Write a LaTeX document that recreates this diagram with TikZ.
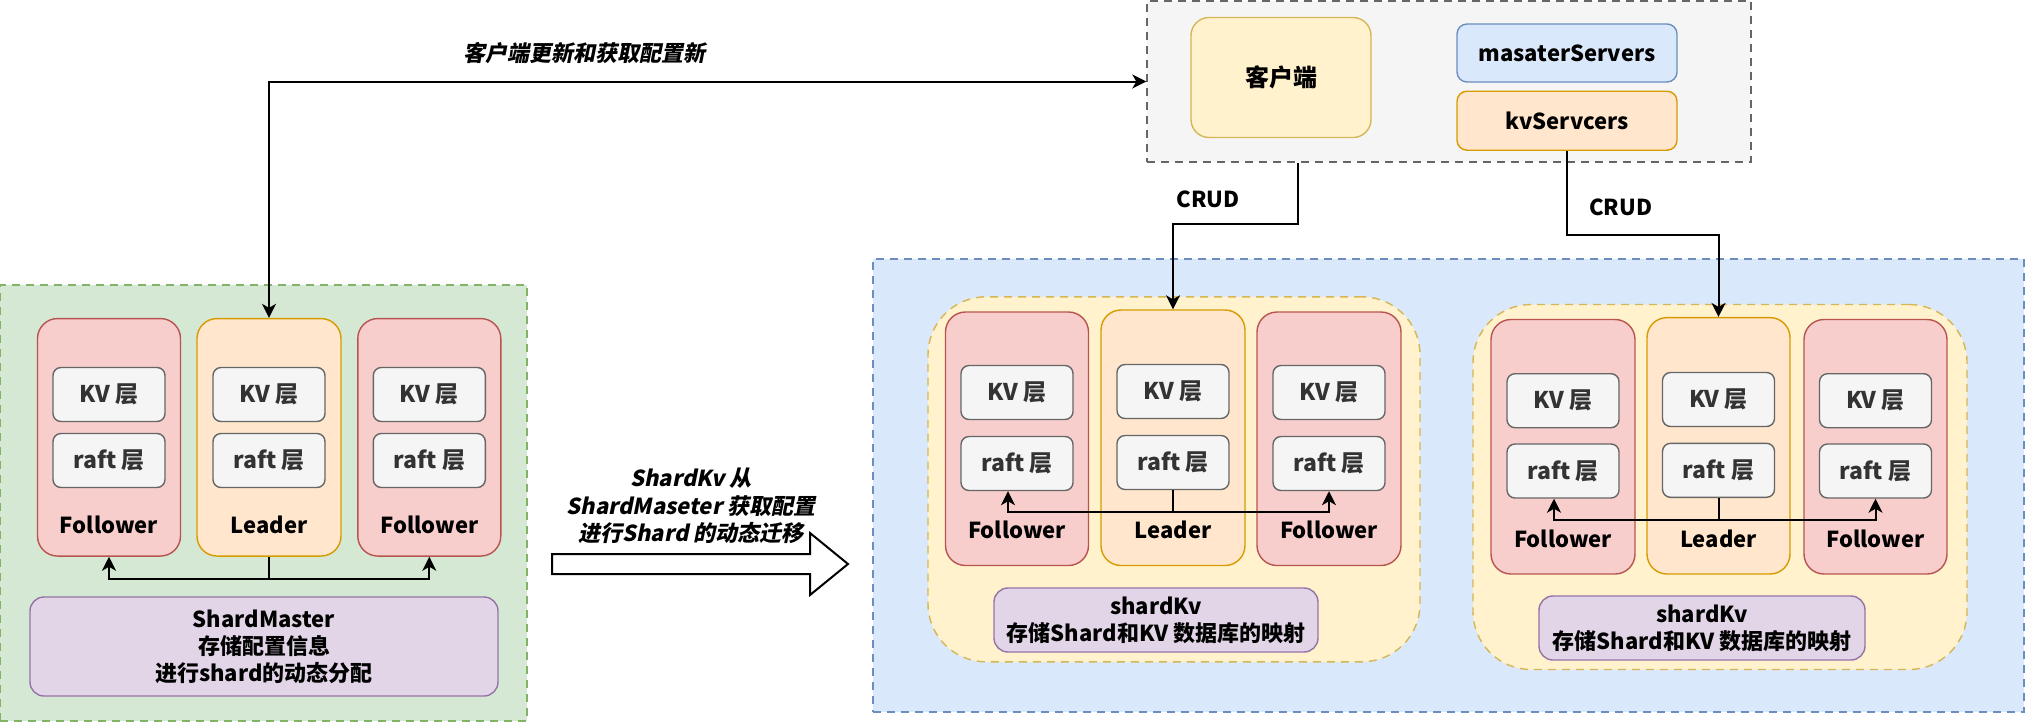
\documentclass[tikz,border=0pt]{standalone}
\usepackage{fontspec}
\setmainfont{Noto Sans CJK SC}
\newfontfamily\slantfont{Noto Sans CJK SC}[FakeSlant=0.2]
\usetikzlibrary{arrows.meta,calc}
\definecolor{grnfill}{HTML}{D5E8D4}
\definecolor{grnline}{HTML}{82B366}
\definecolor{redfill}{HTML}{F8CECC}
\definecolor{redline}{HTML}{B85450}
\definecolor{orfill}{HTML}{FFE6CC}
\definecolor{orline}{HTML}{D79B00}
\definecolor{layfill}{HTML}{F5F5F5}
\definecolor{layline}{HTML}{666666}
\definecolor{purfill}{HTML}{E1D5E7}
\definecolor{purline}{HTML}{9673A6}
\definecolor{yelfill}{HTML}{FFF2CC}
\definecolor{yelline}{HTML}{D6B656}
\definecolor{blufill}{HTML}{DAE8FC}
\definecolor{bluline}{HTML}{6C8EBF}
\definecolor{darktext}{HTML}{333333}
\begin{document}
\begin{tikzpicture}[x=0.5pt, y=-0.5pt, font=\fontsize{11}{13.5}\selectfont\bfseries,
    sz/.style 2 args={minimum width=#1*0.5pt, minimum height=#2*0.5pt, inner sep=0pt},
    grp/.style={dash pattern=on 4pt off 3pt, line width=0.7pt},
    layer/.style={draw=layline, fill=layfill, rounded corners=4pt, line width=0.7pt, text=darktext, sz={112}{54}, font=\fontsize{11.5}{13.5}\selectfont\bfseries},
    follower/.style={draw=redline, fill=redfill, rounded corners=10pt, line width=0.7pt},
    leader/.style={draw=orline, fill=orfill, rounded corners=10pt, line width=0.7pt},
    note/.style={draw=purline, fill=purfill, rounded corners=7pt, line width=0.7pt, align=center},
    tip/.tip={Stealth[length=7pt, width=7pt, inset=2pt]},
    link/.style={line width=1pt, -tip}]
    \useasboundingbox (0,0) rectangle (2028,724);

    \node[grp, draw=grnline, fill=grnfill, sz={527}{436}] (smgrp) at (263.5,503) {};
    \node[grp, draw=bluline, fill=blufill, sz={1151}{453}] (kvgrp) at (1448.5,485.5) {};
    \node[grp, draw=layline, fill=layfill, sz={604}{161}] (cfg) at (1449,81.5) {};
    \node[grp, draw=yelline, fill=yelfill, rounded corners=29pt, sz={492}{365}] (shard1) at (1174,479.3) {};
    \node[grp, draw=yelline, fill=yelfill, rounded corners=29pt, sz={494}{365}] (shard2) at (1720,487) {};

    \node[draw=yelline, fill=yelfill, rounded corners=9pt, line width=0.7pt, sz={180}{120}, font=\fontsize{12}{14}\selectfont\bfseries] (client) at (1281,77.5) {客户端};
    \node[draw=bluline, fill=blufill, rounded corners=5pt, line width=0.7pt, sz={220}{58}] (msrv) at (1567,53) {masaterServers};
    \node[draw=orline, fill=orfill, rounded corners=5pt, line width=0.7pt, sz={220}{59}] (ksrv) at (1567,120.7) {kvServcers};

    \node[follower, sz={143}{237.5}, label={[anchor=center, yshift=16pt]south:Follower}] (f0a) at (109,437.3) {};
    \node[leader, sz={144}{237.5}, label={[anchor=center, yshift=16pt]south:Leader}] (l0) at (269,437.3) {};
    \node[follower, sz={143}{237.5}, label={[anchor=center, yshift=16pt]south:Follower}] (f0b) at (429.3,437.3) {};
    \node[layer] (k0a) at (109,394.5) {KV 层};
    \node[layer] (r0a) at (109,460.5) {raft 层};
    \node[layer] (k0l) at (269,394.5) {KV 层};
    \node[layer] (r0l) at (269,460.5) {raft 层};
    \node[layer] (k0b) at (429.3,394.5) {KV 层};
    \node[layer] (r0b) at (429.3,460.5) {raft 层};

    \node[follower, sz={143}{253.5}, label={[anchor=center, yshift=18pt]south:Follower}] (f1a) at (1017,438.75) {};
    \node[leader, sz={144}{255.5}, label={[anchor=center, yshift=18pt]south:Leader}] (l1) at (1173,437.75) {};
    \node[follower, sz={144}{253.5}, label={[anchor=center, yshift=18pt]south:Follower}] (f1b) at (1329,438.75) {};
    \node[layer] (k1a) at (1017,392.5) {KV 层};
    \node[layer] (r1a) at (1017,463.5) {raft 层};
    \node[layer] (k1l) at (1173,391.5) {KV 层};
    \node[layer] (r1l) at (1173,462.5) {raft 层};
    \node[layer] (k1b) at (1329,392.5) {KV 层};
    \node[layer] (r1b) at (1329,463.5) {raft 层};

    \node[follower, sz={144}{254.5}, label={[anchor=center, yshift=18pt]south:Follower}] (f2a) at (1563,446.75) {};
    \node[leader, sz={143}{256.4}, label={[anchor=center, yshift=18pt]south:Leader}] (l2) at (1718.5,445.8) {};
    \node[follower, sz={143}{254.5}, label={[anchor=center, yshift=18pt]south:Follower}] (f2b) at (1875.5,446.75) {};
    \node[layer] (k2a) at (1563,400.7) {KV 层};
    \node[layer] (r2a) at (1563,471) {raft 层};
    \node[layer] (k2l) at (1718.5,399.5) {KV 层};
    \node[layer] (r2l) at (1718.5,470.3) {raft 层};
    \node[layer] (k2b) at (1875.5,400.7) {KV 层};
    \node[layer] (r2b) at (1875.5,471) {raft 层};

    \node[note, sz={468}{99}] (smnote) at (264,646.5) {ShardMaster\\存储配置信息\\进行shard的动态分配};
    \node[note, sz={324}{64}] (kvnote1) at (1156,620) {shardKv\\存储Shard和KV 数据库的映射};
    \node[note, sz={326}{64}] (kvnote2) at (1702,628) {shardKv\\存储Shard和KV 数据库的映射};

    \draw[link] (l0.south) -- ++(0,22.5) -| (f0a.south);
    \draw[link] (l0.south) -- ++(0,22.5) -| (f0b.south);
    \draw[link] (r1l.south) -- ++(0,22) -| ([xshift=-4.5pt]r1a.south);
    \draw[link] (r1l.south) -- ++(0,22) -| (r1b.south);
    \draw[link] (r2l.south) -- ++(0,22) -| ([xshift=-4.5pt]r2a.south);
    \draw[link] (r2l.south) -- ++(0,22) -| (r2b.south);

    \draw[link, tip-tip] (l0.north) |- (cfg.west) node[pos=0.68, yshift=14pt, font=\slantfont\fontsize{11}{13.5}\selectfont\bfseries] (upd) {客户端更新和获取配置新};
    \draw[link] ($(cfg.south west)!0.25!(cfg.south east)$) -- ++(0,61) -| (l1.north);
    \draw[link] (ksrv.south) -- ++(0,83.6) -| (l2.north);
    \node (crud1) at (1208,199.5) {CRUD};
    \node (crud2) at (1620.7,207.8) {CRUD};

    \draw[line width=1pt] (552,554) -- (810,554) -- (810,533) -- (848,564) -- (810,595) -- (810,574) -- (552,574) -- cycle;
    \node[align=center, font=\slantfont\fontsize{11}{13.75}\selectfont\bfseries] (mig) at (691,506) {ShardKv 从\\ShardMaseter 获取配置\\进行Shard 的动态迁移};
\end{tikzpicture}
\end{document}
